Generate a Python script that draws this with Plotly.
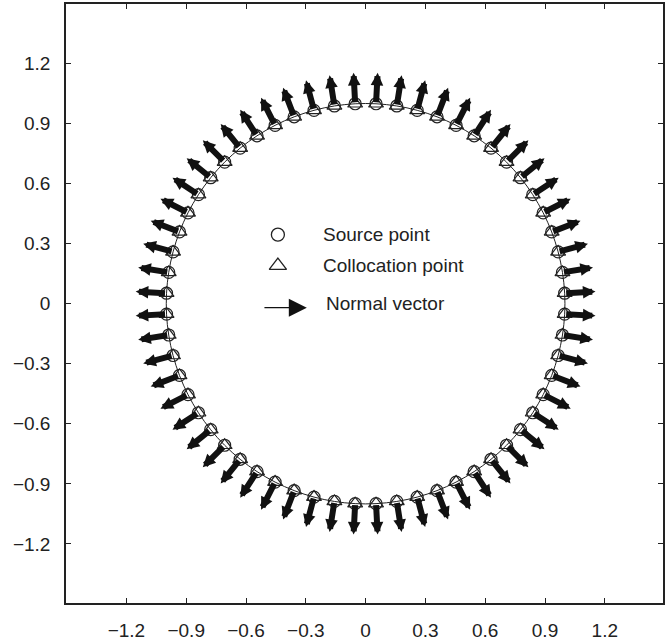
import plotly.graph_objects as go
import math

# Boundary nodes: polar angle (degrees) of each node on the unit circle
angles_deg = [3, 9, 15, 21, 27, 33, 39, 45, 51, 57, 63, 69, 75, 81, 87,
              93, 99, 105, 111, 117, 123, 129, 135, 141, 147, 153, 159, 165, 171, 177,
              183, 189, 195, 201, 207, 213, 219, 225, 231, 237, 243, 249, 255, 261, 267,
              273, 279, 285, 291, 297, 303, 309, 315, 321, 327, 333, 339, 345, 351, 357]
radius = 1.0
normal_length = 0.155

tick_vals = [-1.2, -0.9, -0.6, -0.3, 0, 0.3, 0.6, 0.9, 1.2]
tick_text = ["\u22121.2", "\u22120.9", "\u22120.6", "\u22120.3", "0", "0.3", "0.6", "0.9", "1.2"]

legend_labels = ["Source point", "Collocation point", "Normal vector"]

xs = [radius * math.cos(math.radians(a)) for a in angles_deg]
ys = [radius * math.sin(math.radians(a)) for a in angles_deg]

FONT = "Liberation Sans, Arial, Helvetica"

fig = go.Figure()

# boundary line
fig.add_trace(go.Scatter(x=xs + [xs[0]], y=ys + [ys[0]], mode="lines",
                         line=dict(color="#222", width=1, shape="spline"),
                         showlegend=False, hoverinfo="skip"))
# source points
fig.add_trace(go.Scatter(x=xs, y=ys, mode="markers",
                         marker=dict(symbol="circle-open", size=12, color="#222",
                                     line=dict(width=1.2, color="#222")),
                         showlegend=False))
# collocation points
fig.add_trace(go.Scatter(x=xs, y=ys, mode="markers",
                         marker=dict(symbol="triangle-up-open", size=13, color="#222",
                                     line=dict(width=1.2, color="#222")),
                         showlegend=False))

annotations = []
for a, x0, y0 in zip(angles_deg, xs, ys):
    nx, ny = math.cos(math.radians(a)), math.sin(math.radians(a))
    annotations.append(dict(x=x0 + normal_length * nx, y=y0 + normal_length * ny,
                            ax=x0, ay=y0, xref="x", yref="y", axref="x", ayref="y",
                            text="", showarrow=True, arrowhead=2, arrowsize=0.42,
                            arrowwidth=6, arrowcolor="#111"))

# legend drawn inside the circle
leg_x_sym = -0.44
leg_x_txt = -0.225
leg_y = [0.345, 0.19, 0.0]
fig.add_trace(go.Scatter(x=[leg_x_sym], y=[leg_y[0]], mode="markers",
                         marker=dict(symbol="circle-open", size=13, color="#222",
                                     line=dict(width=1.3, color="#222")),
                         showlegend=False))
fig.add_trace(go.Scatter(x=[leg_x_sym], y=[leg_y[1]], mode="markers",
                         marker=dict(symbol="triangle-up-open", size=15, color="#222",
                                     line=dict(width=1.3, color="#222")),
                         showlegend=False))
annotations.append(dict(x=-0.295, y=leg_y[2] - 0.02, ax=-0.515, ay=leg_y[2] - 0.02,
                        xref="x", yref="y", axref="x", ayref="y", text="",
                        showarrow=True, arrowhead=2, arrowsize=3, arrowwidth=1.2,
                        arrowcolor="#111"))
for i, lab in enumerate(legend_labels):
    annotations.append(dict(x=leg_x_txt + (0.015 if i == 2 else 0), y=leg_y[i],
                            xref="x", yref="y", text=lab, showarrow=False,
                            xanchor="left", yanchor="middle",
                            font=dict(family=FONT, size=19, color="#222")))

axis_common = dict(showgrid=False, zeroline=False, showline=True, linecolor="#222",
                   linewidth=1.5, ticks="inside", ticklen=5, tickcolor="#222",
                   mirror="ticks", tickvals=tick_vals, ticktext=tick_text,
                   tickfont=dict(family=FONT, size=19, color="#222"))

fig.update_layout(
    width=665, height=641,
    margin=dict(l=66, r=0, t=4, b=36),
    plot_bgcolor="white", paper_bgcolor="white",
    xaxis=dict(range=[-1.503, 1.492], ticklabelstandoff=9, **axis_common),
    yaxis=dict(range=[-1.495, 1.497], ticklabelstandoff=10, **axis_common),
    annotations=annotations,
    showlegend=False,
)

fig.write_html("out.html")
